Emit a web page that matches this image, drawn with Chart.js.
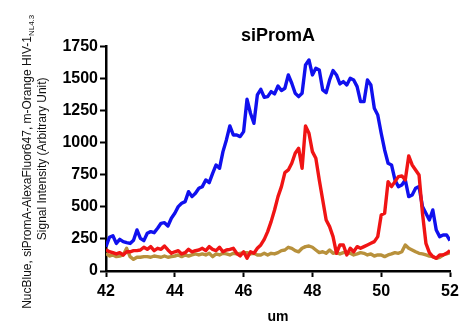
<!DOCTYPE html>
<html>
<head>
<meta charset="utf-8">
<script src="https://cdn.jsdelivr.net/npm/chart.js@4"></script>
<style>
  body { margin: 0; background: #fff; }
  #wrap { width: 466px; height: 326px; }
</style>
</head>
<body>
<div id="wrap"><canvas id="grafica" width="466" height="326"></canvas></div>
<script>
// posiciones (um)
const um = [
  42.0, 42.1, 42.2, 42.3, 42.4, 42.5, 42.6, 42.7, 42.8, 42.9,
  43.0, 43.1, 43.2, 43.3, 43.4, 43.5, 43.6, 43.7, 43.8, 43.9,
  44.0, 44.1, 44.2, 44.3, 44.4, 44.5, 44.6, 44.7, 44.8, 44.9,
  45.0, 45.1, 45.2, 45.3, 45.4, 45.5, 45.6, 45.7, 45.8, 45.9,
  46.0, 46.1, 46.2, 46.3, 46.4, 46.5, 46.6, 46.7, 46.8, 46.9,
  47.0, 47.1, 47.2, 47.3, 47.4, 47.5, 47.6, 47.7, 47.8, 47.9,
  48.0, 48.1, 48.2, 48.3, 48.4, 48.5, 48.6, 48.7, 48.8, 48.9,
  49.0, 49.1, 49.2, 49.3, 49.4, 49.5, 49.6, 49.7, 49.8, 49.9,
  50.0, 50.1, 50.2, 50.3, 50.4, 50.5, 50.6, 50.7, 50.8, 50.9,
  51.0, 51.1, 51.2, 51.3, 51.4, 51.5, 51.6, 51.7, 51.8, 51.9,
  52.0
];

// NucBlue
const nucBlue = [
  190, 263, 275, 215, 247, 229, 221, 215, 240, 320,
  255, 237, 294, 307, 299, 333, 372, 377, 351, 411,
  450, 502, 528, 541, 619, 580, 606, 645, 658, 710,
  689, 762, 827, 801, 931, 1022, 1131, 1061, 1061, 1048,
  1087, 1339, 1230, 1152, 1373, 1417, 1355, 1360, 1399, 1381,
  1443, 1407, 1425, 1529, 1464, 1386, 1360, 1386, 1607, 1646,
  1529, 1581, 1568, 1412, 1391, 1490, 1563, 1529, 1459, 1477,
  1451, 1503, 1490, 1438, 1321, 1321, 1490, 1451, 1269, 1217,
  1074, 944, 840, 827, 710, 658, 671, 710, 580, 593,
  645, 658, 502, 450, 398, 476, 320, 268, 281, 281,
  237
];

// siPromA-AlexaFluor647
const siPromA = [
  165, 150, 143, 133, 143, 125, 150, 150, 159, 159,
  164, 185, 169, 190, 159, 177, 169, 195, 164, 138,
  150, 159, 133, 143, 169, 150, 159, 164, 177, 159,
  190, 169, 159, 185, 150, 164, 169, 177, 138, 117,
  150, 99, 150, 138, 177, 203, 247, 307, 385, 476,
  580, 658, 767, 788, 840, 918, 957, 801, 1131, 1074,
  931, 879, 710, 554, 398, 346, 268, 138, 203, 203,
  125, 177, 150, 190, 177, 190, 203, 216, 229, 268,
  437, 450, 697, 658, 697, 736, 741, 710, 897, 827,
  788, 749, 450, 216, 143, 112, 99, 125, 125, 138,
  159
];

// m-Orange HIV-1 NL4.3
const mOrange = [
  138, 117, 125, 112, 117, 125, 177, 112, 91, 107,
  107, 112, 112, 107, 117, 112, 107, 117, 107, 112,
  117, 125, 112, 125, 117, 125, 133, 125, 133, 125,
  138, 112, 133, 125, 138, 133, 125, 138, 133, 138,
  143, 143, 133, 138, 125, 125, 138, 125, 138, 133,
  143, 159, 164, 185, 177, 159, 150, 177, 190, 195,
  185, 164, 143, 150, 138, 164, 138, 143, 133, 143,
  143, 138, 125, 133, 143, 138, 125, 133, 117, 125,
  125, 112, 125, 133, 143, 138, 150, 203, 177, 164,
  150, 138, 133, 125, 117, 112, 99, 107, 125, 133,
  143
];

const yTicks = [0, 250, 500, 750, 1000, 1250, 1500, 1750];
const xTicks = [42, 44, 46, 48, 50, 52];

const FUENTE = "'Liberation Sans', Arial, sans-serif";

function puntos(valores) {
  return um.map((x, i) => ({ x: x, y: valores[i] }));
}

// titulo del eje Y con subindice
const tituloEjeY = {
  id: 'tituloEjeY',
  afterDraw(chart) {
    const ctx = chart.ctx;
    const area = chart.chartArea;
    const cy = (area.top + area.bottom) / 2;
    ctx.save();
    ctx.fillStyle = '#111';
    ctx.textBaseline = 'middle';
    ctx.textAlign = 'left';

    // linea 1
    const principal = 'NucBlue, siPromA-AlexaFluor647, m-Orange HIV-1';
    const sub = 'NL4.3';
    ctx.translate(28, cy);
    ctx.rotate(-Math.PI / 2);
    ctx.font = '12px ' + FUENTE;
    const w1 = ctx.measureText(principal).width;
    ctx.font = '8px ' + FUENTE;
    const w2 = ctx.measureText(sub).width;
    const x0 = -(w1 + w2) / 2 - 3;
    ctx.font = '12px ' + FUENTE;
    ctx.fillText(principal, x0, 0);
    ctx.font = '8px ' + FUENTE;
    ctx.fillText(sub, x0 + w1, 4);
    ctx.restore();

    // linea 2
    ctx.save();
    ctx.fillStyle = '#111';
    ctx.textBaseline = 'middle';
    ctx.textAlign = 'center';
    ctx.translate(43, cy);
    ctx.rotate(-Math.PI / 2);
    ctx.font = '12px ' + FUENTE;
    ctx.fillText('Signal Intensity (Arbitrary Unit)', 0, 0);
    ctx.restore();
  }
};

const ctx = document.getElementById('grafica').getContext('2d');

new Chart(ctx, {
  type: 'line',
  data: {
    datasets: [
      {
        label: 'NucBlue',
        data: puntos(nucBlue),
        borderColor: '#1010ee',
        order: 1
      },
      {
        label: 'siPromA-AlexaFluor647',
        data: puntos(siPromA),
        borderColor: '#f01414',
        order: 0
      },
      {
        label: 'm-Orange HIV-1 NL4.3',
        data: puntos(mOrange),
        borderColor: '#b8913c',
        order: 2
      }
    ]
  },
  options: {
    responsive: false,
    animation: false,
    layout: {
      padding: { left: 0, right: 16, top: 0, bottom: 0 }
    },
    elements: {
      line: { borderWidth: 3.4, tension: 0, borderJoinStyle: 'round', fill: false },
      point: { radius: 0 }
    },
    plugins: {
      legend: { display: false },
      tooltip: { enabled: false },
      title: {
        display: true,
        text: 'siPromA',
        fullSize: false,
        color: '#000',
        font: { family: FUENTE, size: 18, weight: 'bold' },
        padding: { top: 25, bottom: 0 }
      }
    },
    scales: {
      x: {
        type: 'linear',
        min: 42,
        max: 52,
        afterBuildTicks: (scale) => {
          scale.ticks = xTicks.map(v => ({ value: v }));
        },
        afterFit: (scale) => { scale.height = 55; },
        grid: {
          drawOnChartArea: false,
          drawTicks: true,
          tickLength: 6,
          tickWidth: 2,
          tickColor: '#000'
        },
        border: { display: true, color: '#000', width: 2.5 },
        ticks: {
          color: '#000',
          padding: 5,
          maxRotation: 0,
          font: { family: FUENTE, size: 16, weight: 'bold' },
          callback: (v) => v
        },
        title: {
          display: true,
          text: 'um',
          color: '#000',
          font: { family: FUENTE, size: 14, weight: 'bold' },
          padding: { top: 0, bottom: 0 }
        }
      },
      y: {
        min: 0,
        max: 1750,
        afterBuildTicks: (scale) => {
          scale.ticks = yTicks.map(v => ({ value: v }));
        },
        afterFit: (scale) => { scale.width = 106; },
        grid: {
          drawOnChartArea: false,
          drawTicks: true,
          tickLength: 6,
          tickWidth: 2,
          tickColor: '#000'
        },
        border: { display: true, color: '#000', width: 2.5 },
        ticks: {
          color: '#000',
          padding: 2,
          font: { family: FUENTE, size: 16, weight: 'bold' },
          callback: (v) => v
        }
      }
    }
  },
  plugins: [tituloEjeY]
});
</script>
</body>
</html>
